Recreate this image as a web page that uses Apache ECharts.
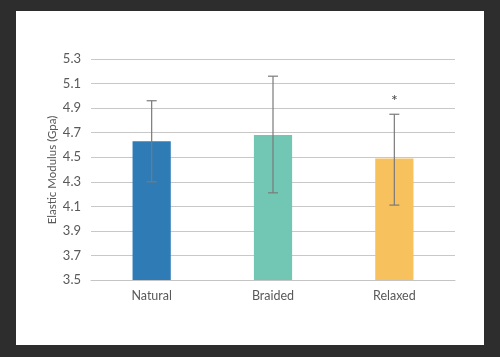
<!DOCTYPE html>
<html><head><meta charset="utf-8">
<script src="https://cdn.jsdelivr.net/npm/echarts@6/dist/echarts.min.js"></script>
<style>
html,body{margin:0;padding:0;width:500px;height:357px;background:#2d2d2d;overflow:hidden}
#c{position:absolute;left:16px;top:11px;width:468px;height:334px;background:#fff}
</style></head>
<body><div id="c"></div>
<script>
const categories = ["Natural", "Braided", "Relaxed"];
const means = [4.63, 4.68, 4.49];
const errLow = [4.30, 4.21, 4.11];
const errHigh = [4.96, 5.16, 4.85];
const significance = ["", "", "*"];
const barColors = ["#2e7bb6", "#72c6b4", "#f7c15d"];
const yTicks = ["3.5","3.7","3.9","4.1","4.3","4.5","4.7","4.9","5.1","5.3"];
const yTitle = "Elastic Modulus (Gpa)";

const chart = echarts.init(document.getElementById('c'), null, {renderer:'canvas'});
const font = 'Lato, "Open Sans", sans-serif';
chart.setOption({
  animation:false,
  backgroundColor:'#ffffff',
  grid:{left:75,right:29,top:48,bottom:65},
  graphic:[{type:'text',x:36,y:159,rotation:Math.PI/2,
    style:{text:yTitle,align:'center',verticalAlign:'middle',fill:'#595959',fontSize:11.5,fontFamily:font}}],
  xAxis:{type:'category',data:categories,
    axisLine:{lineStyle:{color:'#c4c4c4'}},axisTick:{show:false},
    axisLabel:{color:'#595959',fontSize:12.5,fontFamily:font,margin:9}},
  yAxis:{type:'value',min:3.5,max:5.3,interval:0.2,
    axisLine:{show:false},axisTick:{show:false},
    splitLine:{lineStyle:{color:'#c8c8c8',width:1}},
    axisLabel:{color:'#595959',fontSize:13,fontFamily:font,margin:10,
      formatter:(v)=>yTicks[Math.round((v-3.5)/0.2)] ?? v.toFixed(1)}},
  series:[
    {type:'bar',data:means.map((v,i)=>({value:v,itemStyle:{color:barColors[i]}})),
     barWidth:'31.5%'},
    {type:'custom',
     data:categories.map((c,i)=>[i,errLow[i],errHigh[i],significance[i]]),
     encode:{x:0,y:[1,2]},z:10,
     renderItem:function(params,api){
       const x=api.value(0);
       const lo=api.coord([x,api.value(1)]);
       const hi=api.coord([x,api.value(2)]);
       const hw=5;
       const st={stroke:'#7a7a7a',lineWidth:1.2};
       const children=[
         {type:'line',shape:{x1:hi[0],y1:hi[1],x2:lo[0],y2:lo[1]},style:st},
         {type:'line',shape:{x1:hi[0]-hw,y1:hi[1],x2:hi[0]+hw,y2:hi[1]},style:st},
         {type:'line',shape:{x1:lo[0]-hw,y1:lo[1],x2:lo[0]+hw,y2:lo[1]},style:st}
       ];
       const s=significance[params.dataIndex];
       if(s){
         children.push({type:'text',style:{text:s,x:hi[0],y:hi[1]-13,
           align:'center',verticalAlign:'middle',fill:'#404040',fontSize:16,fontFamily:font}});
       }
       return {type:'group',children};
     }}
  ]
});
</script></body></html>
